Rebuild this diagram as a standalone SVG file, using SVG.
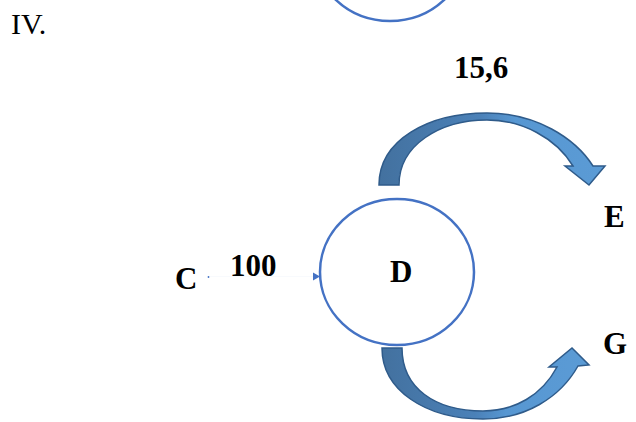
<svg xmlns="http://www.w3.org/2000/svg" width="636" height="422" viewBox="0 0 636 422">
<style>
.node{fill:#FFFFFF;stroke:#4472C4;stroke-width:2.5}
.lbl{font-family:"Liberation Serif","Times New Roman",serif;font-weight:bold;font-size:31px;fill:#000}
.plain{font-family:"Liberation Serif","Times New Roman",serif;font-size:30px;fill:#000}
.carrow{stroke:#2F5B8A;stroke-width:1.5;stroke-linejoin:miter}
.link{stroke:#4472C4;stroke-width:0.3;stroke-opacity:0.12;fill:none}
</style>
<defs>
<linearGradient id="gTop" x1="379" y1="0" x2="605" y2="0" gradientUnits="userSpaceOnUse">
<stop offset="0" stop-color="#43719F"/>
<stop offset="0.45" stop-color="#4B81B8"/>
<stop offset="0.6" stop-color="#5797D2"/>
<stop offset="1" stop-color="#5B9BD5"/>
</linearGradient>
<linearGradient id="gBot" x1="382" y1="0" x2="589" y2="0" gradientUnits="userSpaceOnUse">
<stop offset="0" stop-color="#43719F"/>
<stop offset="0.45" stop-color="#4B81B8"/>
<stop offset="0.6" stop-color="#5797D2"/>
<stop offset="1" stop-color="#5B9BD5"/>
</linearGradient>
</defs>
<rect width="636" height="422" fill="#FFFFFF"/>
<text class="plain" x="11" y="34">IV.</text>
<g id="node-top">
<ellipse class="node" cx="390" cy="-52" rx="77" ry="73"/>
</g>
<g id="node-D">
<ellipse class="node" cx="397" cy="272" rx="77" ry="73"/>
<text class="lbl" x="390" y="282">D</text>
</g>
<g id="node-C">
<text class="lbl" x="175" y="289">C</text>
</g>
<g id="node-E">
<text class="lbl" x="604" y="227">E</text>
</g>
<g id="node-G">
<text class="lbl" x="603" y="354">G</text>
</g>
<g id="connectors">
<g id="conn-C-D">
<line class="link" x1="208" y1="276.5" x2="315" y2="276.5"/>
<circle cx="208.5" cy="277" r="0.9" fill="#4472C4"/>
<polygon points="313,272.5 320,276.5 313,280.5" fill="#4472C4"/>
<text class="lbl" x="230" y="276">100</text>
</g>
<g id="conn-D-E">
<path class="carrow" fill="url(#gTop)" d="M379,185 C379,140 428,113 487,113 C536,113 575,138 593,166 L605,166 L589,185 L565,166 L573,166 C556,138 522,120 487,120 C440,120 399,145 399,185 Z"/>
<text class="lbl" x="454" y="78">15,6</text>
</g>
<g id="conn-D-G">
<path class="carrow" fill="url(#gBot)" d="M382,348 C382,390 425,419 483,419 C525,419 560,398 578,366 L589,365 L572,348 L549,367 L557,367 C542,395 515,411 483,411 C435,411 402,388 402,348 Z"/>
</g>
</g>
</svg>
